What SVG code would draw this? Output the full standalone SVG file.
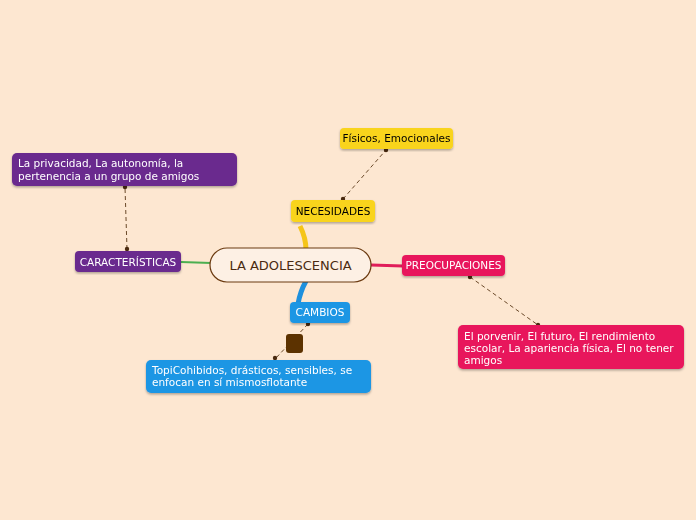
<svg xmlns="http://www.w3.org/2000/svg" width="696" height="520" viewBox="0 0 696 520">
<style>
text{font-family:"DejaVu Sans",sans-serif;font-size:10.5px}
.w{fill:#fff}.d{stroke:#6b4a2a;stroke-width:1;stroke-dasharray:4 3;fill:none}
.dot{fill:#4a2a10}
</style>
<defs><filter id="s"><feDropShadow dx="0" dy="1.5" stdDeviation="1" flood-opacity="0.3"/></filter></defs>
<rect width="696" height="520" fill="#fde7d1"/>
<g id="connectors">
<path d="M300 226 Q306 238 306 250" stroke="#f5c518" stroke-width="5" fill="none"/>
<path d="M306 281 Q300 292 298 304" stroke="#1e90dd" stroke-width="5" fill="none"/>
<path d="M371 265 L403 266" stroke="#e01e5a" stroke-width="3" fill="none"/>
<path d="M181 262 L211 263" stroke="#4caf50" stroke-width="2" fill="none"/>
<path class="d" d="M343 199 L386 150"/><circle class="dot" cx="343" cy="199" r="2.2"/><circle class="dot" cx="386" cy="150" r="2.2"/>
<path class="d" d="M127 249 L125 187"/><circle class="dot" cx="127" cy="249" r="2.2"/><circle class="dot" cx="125" cy="187" r="2.2"/>
<path class="d" d="M470 277 L538 325"/><circle class="dot" cx="470" cy="277" r="2.2"/><circle class="dot" cx="538" cy="325" r="2.2"/>
<path class="d" d="M308 324 L275 359"/><circle class="dot" cx="308" cy="324" r="2.2"/><circle class="dot" cx="275" cy="358" r="2.2"/>
</g>
<g id="central"><rect x="210" y="248" width="161" height="34" rx="17" fill="#fdf0e4" stroke="#6b3a10" stroke-width="1.2"/><text x="290.5" y="270" text-anchor="middle" style="font-size:13px" fill="#4a2a10">LA ADOLESCENCIA</text></g>
<g id="necesidades" filter="url(#s)"><rect x="291" y="200" width="84" height="22" rx="4" fill="#f9d41c"/><text x="333" y="215" text-anchor="middle">NECESIDADES</text></g>
<g id="fisicos" filter="url(#s)"><rect x="340" y="128" width="113" height="21" rx="4" fill="#f9d41c"/><text x="396.5" y="142" text-anchor="middle">Físicos, Emocionales</text></g>
<g id="preocupaciones" filter="url(#s)"><rect x="402" y="255" width="103" height="21" rx="4" fill="#e8195c"/><text class="w" x="453.5" y="269" text-anchor="middle">PREOCUPACIONES</text></g>
<g id="preo-det" filter="url(#s)"><rect x="458" y="325" width="226" height="44" rx="5" fill="#e8195c"/><text class="w" x="464" y="340">El  porvenir, El  futuro, El rendimiento</text><text class="w" x="464" y="352">escolar, La apariencia física, El no tener</text><text class="w" x="464" y="364">amigos</text></g>
<g id="caracteristicas" filter="url(#s)"><rect x="75" y="251" width="106" height="21" rx="4" fill="#6a2a8e"/><text class="w" x="128" y="266" text-anchor="middle">CARACTERÍSTICAS</text></g>
<g id="carac-det" filter="url(#s)"><rect x="12" y="153" width="225" height="33" rx="5" fill="#6a2a8e"/><text class="w" x="18" y="167">La privacidad, La autonomía, la</text><text class="w" x="18" y="180">pertenencia a un grupo de amigos</text></g>
<g id="cambios" filter="url(#s)"><rect x="290" y="302" width="60" height="21" rx="4" fill="#1e96e4"/><text class="w" x="320" y="316" text-anchor="middle">CAMBIOS</text></g>
<g id="float"><rect x="286" y="334" width="17" height="19" rx="3" fill="#5c3200"/></g>
<g id="cambios-det" filter="url(#s)"><rect x="146" y="360" width="225" height="33" rx="5" fill="#1e96e4"/><text class="w" x="152" y="374">TopiCohibidos, drásticos, sensibles, se</text><text class="w" x="152" y="386">enfocan en sí mismosflotante</text></g>
</svg>
